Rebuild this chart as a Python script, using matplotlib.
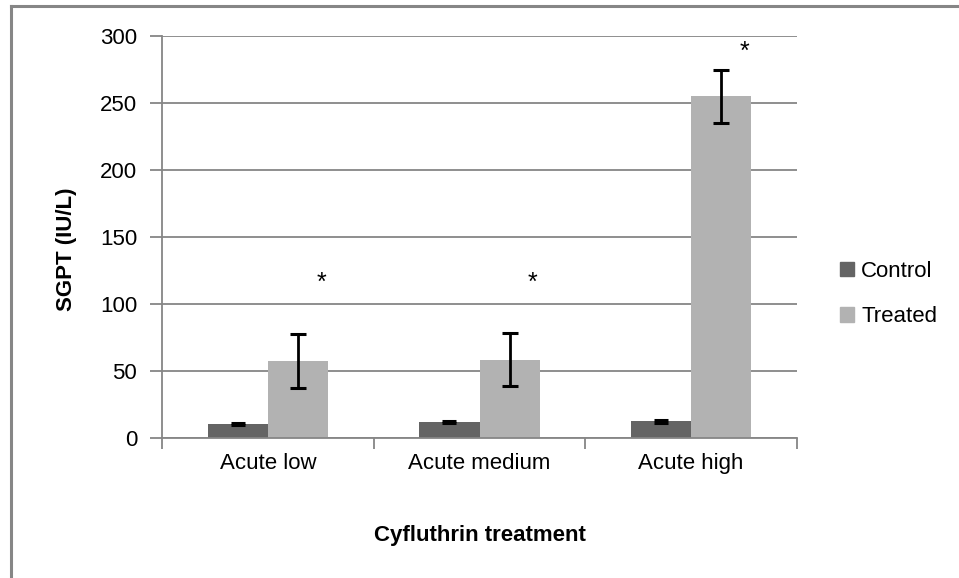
import matplotlib.pyplot as plt
from matplotlib.lines import Line2D
from matplotlib.patches import Patch
import numpy as np

categories = ["Acute low", "Acute medium", "Acute high"]
control = [10.5, 12, 12.5]
control_err = [1, 1, 1]
treated = [57.5, 58.5, 255]
treated_err = [20, 20, 20]
star_y = [116, 116, 288]

plt.rcParams['font.family'] = ['Liberation Sans', 'DejaVu Sans']

fig = plt.figure(figsize=(9.59, 5.78), dpi=100)
W, H = 959, 578
ax = fig.add_axes([162 / W, 1 - 438 / H, (797 - 162) / W, (438 - 36) / H])

x = np.arange(len(categories))
bw = 0.284
ax.bar(x - bw / 2, control, bw, color="#646464", zorder=2)
ax.bar(x + bw / 2, treated, bw, color="#b2b2b2", zorder=2)
ax.errorbar(x - bw / 2, control, yerr=control_err, fmt="none", ecolor="black",
            elinewidth=1.5, capsize=5, capthick=2.2, zorder=3)
ax.errorbar(x + bw / 2, treated, yerr=treated_err, fmt="none", ecolor="black",
            elinewidth=2, capsize=6, capthick=2.2, zorder=3)
for xi, sy in zip(x, star_y):
    ax.text(xi + bw / 2 + 0.11, sy, "*", ha="center", va="center", fontsize=18)

ax.set_xlim(-0.5, 2.5)
ax.set_ylim(0, 300)
ax.set_yticks(np.arange(0, 301, 50))
ax.yaxis.grid(True, color="#868686", linewidth=1.3, zorder=0)
ax.set_axisbelow(True)
ax.set_xticks([-0.5, 0.5, 1.5, 2.5], minor=False)
ax.set_xticklabels([])
ax.set_xticks(x, minor=True)
ax.set_xticklabels(categories, minor=True, fontsize=16)
ax.tick_params(axis="x", which="minor", length=0, pad=11)
ax.tick_params(axis="x", which="major", length=8, color="#868686", width=1.3)
ax.tick_params(axis="y", length=9, color="#868686", width=1.3, labelsize=16, pad=9)
for s in ["top", "right"]:
    ax.spines[s].set_visible(False)
for s in ["left", "bottom"]:
    ax.spines[s].set_color("#868686")
    ax.spines[s].set_linewidth(1.3)

ax.set_ylabel("SGPT (IU/L)", fontsize=16, fontweight="bold")
ax.yaxis.set_label_coords((77 - 162) / (797 - 162), 0.47)
fig.text(480 / W, 1 - 535 / H, "Cyfluthrin treatment", ha="center", va="center",
         fontsize=16, fontweight="bold")

handles = [Patch(color="#646464", label="Control"), Patch(color="#b2b2b2", label="Treated")]
fig.legend(handles=handles, loc="center left", bbox_to_anchor=(820 / W, 1 - 294 / H),
           frameon=False, fontsize=16, handlelength=0.65, handleheight=0.65,
           handletextpad=0.3, labelspacing=1.1)

fig.add_artist(Line2D([11 / W, 11 / W], [0, 1 - 6 / H], color="#868686", linewidth=2.2))
fig.add_artist(Line2D([11 / W, 1], [1 - 6 / H, 1 - 6 / H], color="#868686", linewidth=2.2))

fig.savefig("out.png", dpi=100)
